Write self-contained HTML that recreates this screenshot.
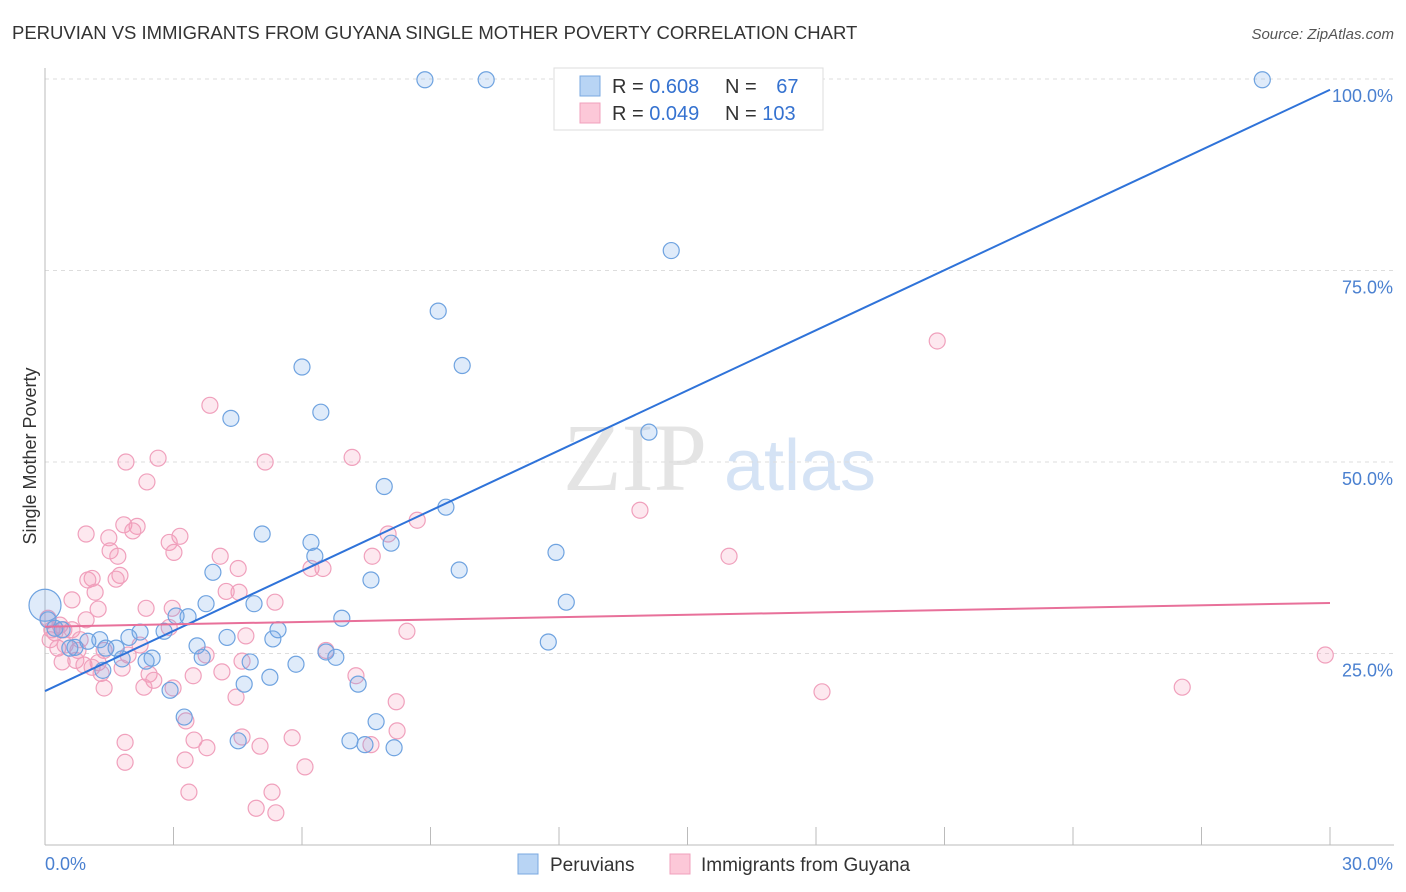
<!DOCTYPE html>
<html><head><meta charset="utf-8"><style>
body{margin:0;background:#fff;font-family:"Liberation Sans",sans-serif;}
svg{display:block}
</style></head><body>
<svg id="chart" width="1406" height="892" xmlns="http://www.w3.org/2000/svg">
<text x="12" y="39" font-size="18.5" fill="#333">PERUVIAN VS IMMIGRANTS FROM GUYANA SINGLE MOTHER POVERTY CORRELATION CHART</text>
<text x="1394" y="39" font-size="15" fill="#555" text-anchor="end" font-style="italic">Source: ZipAtlas.com</text>
<text x="36" y="456" font-size="18" fill="#333" text-anchor="middle" transform="rotate(-90 36 456)">Single Mother Poverty</text>
<g><text x="635" y="490" font-size="96" fill="#e4e4e4" text-anchor="middle" font-family="Liberation Serif,serif">ZIP</text><text x="800" y="490" font-size="72" fill="#d5e3f5" text-anchor="middle">atlas</text></g>
<g id="grid"></g><g id="axes"></g><g id="pts"></g><g id="lines"></g>
<g>
<rect x="554" y="68" width="269" height="62" fill="#fff" stroke="#ddd"/>
<rect x="580" y="76" width="20" height="20" fill="#b8d4f4" stroke="#7aa8e0"/>
<rect x="580" y="103" width="20" height="20" fill="#fcc8d8" stroke="#f0a0bc"/>
<text x="612" y="93" font-size="20" fill="#333">R = <tspan fill="#3572d0">0.608</tspan></text>
<text x="725" y="93" font-size="20" fill="#333">N = <tspan fill="#3572d0" dx="14">67</tspan></text>
<text x="612" y="120" font-size="20" fill="#333">R = <tspan fill="#3572d0">0.049</tspan></text>
<text x="725" y="120" font-size="20" fill="#333">N = <tspan fill="#3572d0">103</tspan></text>
</g>
<g>
<rect x="518" y="854" width="20" height="20" fill="#b8d4f4" stroke="#7aa8e0"/>
<text x="550" y="871" font-size="19" fill="#333">Peruvians</text>
<rect x="670" y="854" width="20" height="20" fill="#fcc8d8" stroke="#f0a0bc"/>
<text x="701" y="871" font-size="19" fill="#333">Immigrants from Guyana</text>
</g>
</svg>
<script>
const blueX=[8.87,10.30,28.42,14.62,9.18,9.74,6.00,6.44,4.34,14.10,7.92,9.36,5.07,6.21,8.08,6.30,11.93,9.67,7.61,3.92,12.17,3.76,4.88,3.34,6.93,3.06,5.44,2.78,2.22,1.96,1.28,1.00,5.32,11.75,4.25,3.55,1.66,1.42,0.70,0.58,0.40,0.23,0.07,0.0,2.50,2.36,1.80,3.67,4.79,5.86,6.56,6.79,4.65,5.25,7.31,2.92,3.25,7.73,7.12,7.47,8.15,4.51,1.35];
const blueY=[99.9,99.9,99.9,77.6,69.7,62.6,62.4,56.5,55.7,53.9,46.8,44.1,40.6,39.5,39.4,37.7,38.2,35.9,34.6,35.6,31.7,31.5,31.5,29.8,29.6,29.9,28.1,27.9,27.8,27.1,26.8,26.6,26.9,26.5,27.1,26.0,25.7,25.7,25.8,25.7,28.1,28.3,29.4,31.3,24.4,24.0,24.3,24.5,23.9,23.6,25.2,24.5,21.0,21.9,21.0,20.2,16.7,16.1,13.6,13.1,12.7,13.6,22.8];
const pinkX=[20.83,13.89,15.97,18.14,26.55,29.89,3.85,1.89,2.64,5.14,7.17,2.38,0.96,1.84,2.15,1.49,2.05,3.15,2.90,4.09,1.52,1.70,3.01,1.10,1.00,1.75,1.66,1.17,4.51,4.53,8.01,8.69,7.64,6.21,6.49,4.23,5.37,2.97,2.36,1.24,0.63,0.96,2.90,8.45,4.69,0.44,0.23,0.12,0.30,0.77,1.38,1.94,2.22,3.76,6.56,0.72,0.40,0.91,1.24,1.80,1.10,1.31,3.46,2.43,2.54,2.99,4.13,7.26,4.60,1.38,2.31,4.46,8.20,3.29,1.87,3.48,4.60,3.78,5.77,5.02,7.61,8.22,1.87,3.27,6.07,3.36,5.30,4.93,5.39,0.07,0.16,0.35,0.63,0.82,0.47];
const pinkY=[65.8,43.7,37.7,20.0,20.6,24.8,57.4,50.0,50.5,50.0,50.6,47.4,40.6,41.8,41.6,40.1,41.0,40.3,39.5,37.7,38.4,37.7,38.2,34.8,34.6,35.2,34.7,33.0,36.1,33.0,40.6,42.4,37.7,36.1,36.1,33.1,31.7,30.9,30.9,30.8,32.0,29.4,28.4,27.9,27.3,28.1,27.7,26.8,25.7,25.4,25.4,24.8,26.1,24.8,25.4,24.1,23.9,23.5,23.8,23.1,23.2,22.4,22.1,22.3,21.5,20.5,22.6,22.1,24.0,20.5,20.6,19.3,18.7,16.2,13.4,13.7,14.1,12.7,14.0,12.9,13.1,14.9,10.8,11.1,10.2,6.9,6.9,4.8,4.2,29.6,28.1,28.7,28.1,26.8,26.1];
const blueLine=[20.1,98.6];
const pinkLine=[28.5,31.6];
const yTicks=[25,50,75,100];
const yTickLabels=["25.0%","50.0%","75.0%","100.0%"];
const xTicks=[0,3,6,9,12,15,18,21,24,27,30];

const NS="http://www.w3.org/2000/svg";
const sx=v=>45+v/30*1285;
const sy=v=>845-v/100*766;
function mk(tag,attrs,parent){const e=document.createElementNS(NS,tag);for(const k in attrs)e.setAttribute(k,attrs[k]);document.getElementById(parent).appendChild(e);return e;}
yTicks.forEach((t,i)=>{
 const g=mk('line',{x1:45,x2:1394,y1:sy(t),y2:sy(t),stroke:'#ddd','stroke-dasharray':'4,4'},'grid');
 
 
 const tx=mk('text',{x:1393,y:sy(t)+23,'font-size':18,fill:'#4a80d0','text-anchor':'end'},'axes');
 tx.textContent=yTickLabels[i];
 
 
});
const ax=mk('line',{x1:45,x2:45,y1:68,y2:845,stroke:'#bbb'},'axes');


const bx=mk('line',{x1:45,x2:1394,y1:845,y2:845,stroke:'#bbb'},'axes');


xTicks.forEach(t=>{
 const l=mk('line',{x1:sx(t),x2:sx(t),y1:827,y2:845,stroke:'#bbb'},'axes');
 
 
});
const xl0=mk('text',{x:45,y:870,'font-size':18,fill:'#4a80d0'},'axes');xl0.textContent=xTicks[0].toFixed(1)+'%';


const xl1=mk('text',{x:1393,y:870,'font-size':18,fill:'#4a80d0','text-anchor':'end'},'axes');xl1.textContent=xTicks[xTicks.length-1].toFixed(1)+'%';


pinkX.forEach((x,i)=>{
 const c=mk('circle',{cx:sx(x),cy:sy(pinkY[i]),r:8,fill:'rgba(245,150,180,0.22)',stroke:'#f0a0bc','stroke-width':1.2},'pts');
 
 
});
blueX.forEach((x,i)=>{
 const c=mk('circle',{cx:sx(x),cy:sy(blueY[i]),r:(i===43?16:8),fill:'rgba(110,165,230,0.22)',stroke:'#6fa3e0','stroke-width':1.2},'pts');
 
 
});
const bl=mk('line',{x1:sx(0),y1:sy(blueLine[0]),x2:sx(30),y2:sy(blueLine[1]),stroke:'#2f73d9','stroke-width':2},'lines');


const pl=mk('line',{x1:sx(0),y1:sy(pinkLine[0]),x2:sx(30),y2:sy(pinkLine[1]),stroke:'#e8709a','stroke-width':2},'lines');


</script>
</body></html>
